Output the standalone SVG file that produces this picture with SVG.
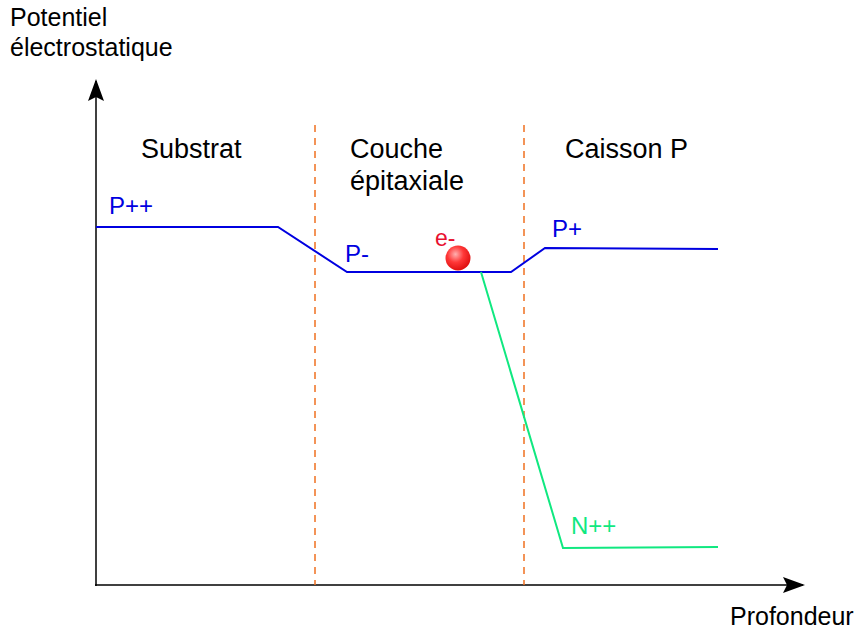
<svg xmlns="http://www.w3.org/2000/svg" width="856" height="631" viewBox="0 0 856 631">
<style>
text{font-family:"Liberation Sans",Arial,sans-serif}
.lbl{font-size:25px;fill:#000}
.reg{font-size:27px;fill:#000}
.blue{font-size:24px;fill:#0000e0}
.axis{stroke:#000;stroke-width:1.5;fill:none}
.dash{stroke:#f07020;stroke-width:1.5;stroke-dasharray:7,6;fill:none}
</style>
<defs>
<marker id="arr" markerWidth="22" markerHeight="16" refX="20" refY="8" orient="auto" markerUnits="userSpaceOnUse" viewBox="0 0 22 16">
<path d="M0,0 L22,8 L0,16 L4,8 Z" fill="#000"/>
</marker>
<radialGradient id="ball" cx="0.4" cy="0.35" r="0.65">
<stop offset="0" stop-color="#ffb0b0"/>
<stop offset="0.5" stop-color="#ff3838"/>
<stop offset="1" stop-color="#e01010"/>
</radialGradient>
</defs>
<g id="connectors">
<line class="axis" x1="96" y1="586" x2="96" y2="81" marker-end="url(#arr)"/>
<line class="axis" x1="95" y1="585" x2="803" y2="585" marker-end="url(#arr)"/>
<line class="dash" x1="315" y1="125" x2="315" y2="585"/>
<line class="dash" x1="524" y1="125" x2="524" y2="585"/>
<polyline fill="none" stroke="#0000e0" stroke-width="2" points="96,227 278,227 347,272 511,272 545,248 718,249"/>
<polyline fill="none" stroke="#10e880" stroke-width="2" points="481,272 563,548 718,547"/>
</g>
<g id="axis-labels">
<text class="lbl" x="10" y="26">Potentiel</text>
<text class="lbl" x="10" y="56">électrostatique</text>
<text class="lbl" x="730" y="625">Profondeur</text>
</g>
<g id="regions">
<text class="reg" x="141" y="158">Substrat</text>
<text class="reg" x="350" y="158">Couche</text>
<text class="reg" x="350" y="190">épitaxiale</text>
<text class="reg" x="565" y="158">Caisson P</text>
</g>
<g id="levels">
<text class="blue" x="109" y="214">P++</text>
<text class="blue" x="345" y="262">P-</text>
<text class="blue" x="552" y="237">P+</text>
<text x="571" y="534" style="font-size:24px;fill:#10e880">N++</text>
</g>
<g id="electron">
<circle cx="458" cy="258" r="12.5" fill="url(#ball)"/>
<text x="435" y="246" style="font-size:23px;fill:#e81030">e-</text>
</g>
</svg>
